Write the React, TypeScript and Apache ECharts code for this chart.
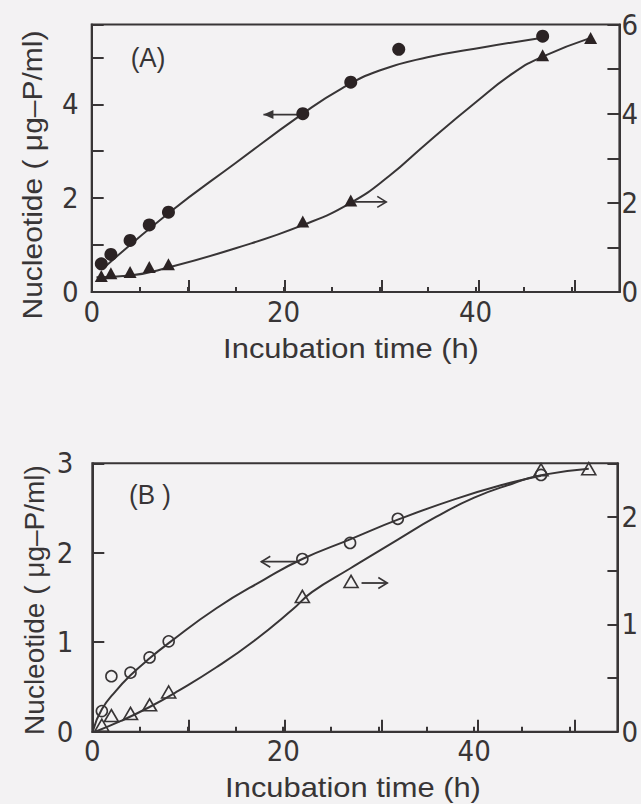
import React, { useEffect, useRef } from "react";
import * as echarts from "echarts";

// ---------------- Panel (A): filled symbols ----------------
const timeA_circle = [1, 2, 4, 6, 8, 22, 27, 32, 47];
const nucA_circle = [0.6, 0.8, 1.1, 1.43, 1.7, 3.8, 4.47, 5.17, 5.45]; // left axis
const timeA_triangle = [1, 2, 4, 6, 8, 22, 27, 47, 52];
const nucA_triangle = [0.36, 0.42, 0.45, 0.56, 0.62, 1.58, 2.05, 5.31, 5.7]; // right axis

// hand-drawn fitted curves
const curveA_circle_t = [1.3, 8, 15, 22, 26, 30, 35, 41, 47];
const curveA_circle_v = [0.52, 1.68, 2.75, 3.8, 4.33, 4.72, 5.0, 5.22, 5.42];
const curveA_triangle_t = [0.5, 4, 8, 15, 22, 27, 31, 35, 40, 44, 47, 52];
const curveA_triangle_v = [0.33, 0.37, 0.55, 0.98, 1.5, 2.0, 2.6, 3.35, 4.25, 4.92, 5.28, 5.7];

// ---------------- Panel (B): open symbols ----------------
const timeB_circle = [1, 2, 4, 6, 8, 22, 27, 32, 47];
const nucB_circle = [0.23, 0.62, 0.66, 0.83, 1.01, 1.93, 2.11, 2.38, 2.87]; // left axis
const timeB_triangle = [1, 2, 4, 6, 8, 22, 47, 52];
const nucB_triangle = [0.06, 0.15, 0.17, 0.25, 0.37, 1.26, 2.44, 2.45]; // right axis

const curveB_circle_t = [0.1, 1, 2.5, 4, 6, 8, 13, 18, 22, 27, 32, 38, 43, 47];
const curveB_circle_v = [0.02, 0.25, 0.46, 0.63, 0.82, 0.99, 1.38, 1.7, 1.93, 2.15, 2.37, 2.6, 2.76, 2.86];
const curveB_triangle_t = [0.3, 3, 6, 9, 13, 17, 21, 23, 27, 32, 36, 40, 44, 47, 52];
const curveB_triangle_v = [0.0, 0.1, 0.23, 0.38, 0.6, 0.85, 1.14, 1.3, 1.52, 1.79, 2.0, 2.18, 2.31, 2.39, 2.45];

// legend-like indicator symbol in panel B (open triangle next to the right arrow)
const indicatorB_t = [27.1];
const indicatorB_v = [1.4];

// axis ticks
const xMax = 55;
const leftA = { max: 5.7, interval: 1 };
const rightA = { max: 6, interval: 1 };
const leftB = { max: 3, interval: 1 };
const rightB = { max: 2.5, interval: 0.5 };

// arrows: [seriesIndex used for conversion, fromX, toX, y, headStyle]
const arrows: [number, number, number, number, string][] = [
  [0, 21.6, 17.9, 3.78, "filled"],
  [1, 27.4, 30.7, 2.02, "open"],
  [4, 21.7, 17.7, 1.9, "open"],
  [5, 28.2, 30.9, 1.385, "open"],
];

const BG = "#f3f2f3";
const INK = "#383536";
const MARK = "#2b2324";
const NARROW = "'Liberation Sans Narrow', 'Arial Narrow', 'DejaVu Sans Condensed', 'Liberation Sans', sans-serif";
const SANS = "'Liberation Sans', Arial, sans-serif";

const zip = (a: number[], b: number[]) => a.map((v, i) => [v, b[i]]);

function xMainAxis(gridIndex: number) {
  return {
    type: "value",
    gridIndex,
    min: 0,
    max: xMax,
    interval: 5,
    axisLine: { show: true, onZero: false, lineStyle: { color: INK, width: 2 } },
    axisTick: { show: true, inside: true, length: 5, lineStyle: { color: INK, width: 2 } },
    splitLine: { show: false },
    axisLabel: {
      show: true,
      margin: 5,
      color: INK,
      fontFamily: NARROW,
      fontSize: 29,
      formatter: (v: number) => (v % 20 === 0 ? String(v) : ""),
    },
  };
}
function xLongTickAxis(gridIndex: number) {
  return {
    type: "value",
    gridIndex,
    min: 0,
    max: 50,
    interval: 10,
    axisLine: { show: false, onZero: false },
    axisTick: { show: true, inside: true, length: 12, lineStyle: { color: INK, width: 2 } },
    splitLine: { show: false },
    axisLabel: { show: false },
  };
}
function yAxis(gridIndex: number, position: string, cfg: { max: number; interval: number }, tickLen: number, margin: number, fmt: (v: number) => string) {
  return {
    type: "value",
    gridIndex,
    position,
    min: 0,
    max: cfg.max,
    interval: cfg.interval,
    axisLine: { show: true, onZero: false, lineStyle: { color: INK, width: 2 } },
    axisTick: { show: true, inside: true, length: tickLen, lineStyle: { color: INK, width: 2 } },
    splitLine: { show: false },
    axisLabel: { show: true, margin, color: INK, fontFamily: NARROW, fontSize: 29, formatter: fmt },
  };
}
const evenFmt = (v: number) => (Number.isInteger(v) && v % 2 === 0 ? String(v) : "");
const intFmt = (v: number) => (Number.isInteger(v) ? String(v) : "");
const allFmt = (v: number) => String(v);

export default function App() {
  const ref = useRef<HTMLDivElement>(null);
  useEffect(() => {
    const el = ref.current!;
    const chart = echarts.init(el, null, { renderer: "svg" });
    const gridCommon = { show: true, borderColor: INK, borderWidth: 2, backgroundColor: "transparent", containLabel: false };
    const curve = (xi: number, yi: number, t: number[], v: number[]) => ({
      type: "line",
      xAxisIndex: xi,
      yAxisIndex: yi,
      data: zip(t, v),
      smooth: 0.5,
      symbol: "none",
      lineStyle: { color: INK, width: 2 },
      z: 2,
    });
    const option: any = {
      animation: false,
      backgroundColor: BG,
      grid: [
        { ...gridCommon, left: 91.7, top: 24.5, width: 531.6, height: 267.5 },
        { show: false, left: 91.7, top: 24.5, width: (531.6 * 50) / 55, height: 267.5 },
        { ...gridCommon, left: 92.3, top: 463.3, width: 530.4, height: 268.4 },
        { show: false, left: 92.3, top: 463.3, width: (530.4 * 50) / 55, height: 268.4 },
      ],
      xAxis: [xMainAxis(0), xLongTickAxis(1), xMainAxis(2), xLongTickAxis(3)],
      yAxis: [
        yAxis(0, "left", leftA, 12, 13, evenFmt),
        yAxis(0, "right", rightA, 12, 2, evenFmt),
        { type: "value", gridIndex: 1, min: 0, max: 1, show: false },
        yAxis(2, "left", leftB, 12, 19, allFmt),
        yAxis(2, "right", rightB, 10, 4, intFmt),
        { type: "value", gridIndex: 3, min: 0, max: 1, show: false },
      ],
      series: [
        curve(0, 0, curveA_circle_t, curveA_circle_v), // 0
        curve(0, 1, curveA_triangle_t, curveA_triangle_v), // 1
        { type: "scatter", xAxisIndex: 0, yAxisIndex: 0, data: zip(timeA_circle, nucA_circle), symbol: "circle", symbolSize: 13, itemStyle: { color: MARK, opacity: 1 }, z: 3 },
        { type: "scatter", xAxisIndex: 0, yAxisIndex: 1, data: zip(timeA_triangle, nucA_triangle), symbol: "triangle", symbolSize: [13, 12], itemStyle: { color: MARK, opacity: 1 }, z: 3 },
        curve(2, 3, curveB_circle_t, curveB_circle_v), // 4
        curve(2, 4, curveB_triangle_t, curveB_triangle_v), // 5
        { type: "scatter", xAxisIndex: 2, yAxisIndex: 3, data: zip(timeB_circle, nucB_circle), symbol: "circle", symbolSize: 11, itemStyle: { color: "transparent", borderColor: INK, borderWidth: 1.6, opacity: 1 }, z: 3 },
        { type: "scatter", xAxisIndex: 2, yAxisIndex: 4, data: zip(timeB_triangle, nucB_triangle), symbol: "triangle", symbolSize: [14, 12], itemStyle: { color: "transparent", borderColor: INK, borderWidth: 1.6, opacity: 1 }, z: 3 },
        { type: "scatter", xAxisIndex: 2, yAxisIndex: 4, data: zip(indicatorB_t, indicatorB_v), symbol: "triangle", symbolSize: [14, 12], itemStyle: { color: "transparent", borderColor: INK, borderWidth: 1.6, opacity: 1 }, z: 3 },
      ],
    };
    chart.setOption(option);

    const graphics: any[] = [];
    const txt = (text: string, x: number, y: number, size: number, rotation = 0, sx = 1, sy = 1) => ({
      type: "text",
      x,
      y,
      rotation,
      scaleX: sx,
      scaleY: sy,
      silent: true,
      style: { text, fill: INK, fontSize: size, fontFamily: SANS, align: "center", verticalAlign: "middle", textAlign: "center", textVerticalAlign: "middle" },
    });
    graphics.push(txt("Incubation time (h)", 351, 349, 30, 0, 1.03, 0.9));
    graphics.push(txt("Incubation time (h)", 353, 788, 30, 0, 1.03, 0.9));
    graphics.push(txt("Nucleotide ( μg–P/ml)", 32, 175, 30, Math.PI / 2, 1.0, 0.95));
    graphics.push(txt("Nucleotide ( μg–P/ml)", 34, 600, 28, Math.PI / 2, 1.0, 1.0));
    graphics.push(txt("(A)", 148, 58, 26, 0, 1, 1.05));
    graphics.push(txt("(B )", 150, 495, 26, 0, 1, 1.05));

    arrows.forEach(([si, fx, tx, y, style]) => {
      const p0 = chart.convertToPixel({ seriesIndex: si }, [fx, y]) as number[];
      const p1 = chart.convertToPixel({ seriesIndex: si }, [tx, y]) as number[];
      const dir = p1[0] > p0[0] ? 1 : -1;
      graphics.push({ type: "line", silent: true, shape: { x1: p0[0], y1: p0[1], x2: p1[0], y2: p1[1] }, style: { stroke: INK, lineWidth: 1.8 } });
      if (style === "filled") {
        graphics.push({
          type: "polygon",
          silent: true,
          shape: { points: [[p1[0], p1[1]], [p1[0] - dir * 10, p1[1] - 4.5], [p1[0] - dir * 10, p1[1] + 4.5]] },
          style: { fill: INK },
        });
      } else {
        graphics.push({
          type: "polyline",
          silent: true,
          shape: { points: [[p1[0] - dir * 9, p1[1] - 5.5], [p1[0], p1[1]], [p1[0] - dir * 9, p1[1] + 5.5]] },
          style: { stroke: INK, lineWidth: 1.6, fill: "none" },
        });
      }
    });
    chart.setOption({ graphic: graphics });

    return () => chart.dispose();
  }, []);
  return <div ref={ref} style={{ position: "fixed", left: 0, top: 0, width: 641, height: 804, background: BG }} />;
}
